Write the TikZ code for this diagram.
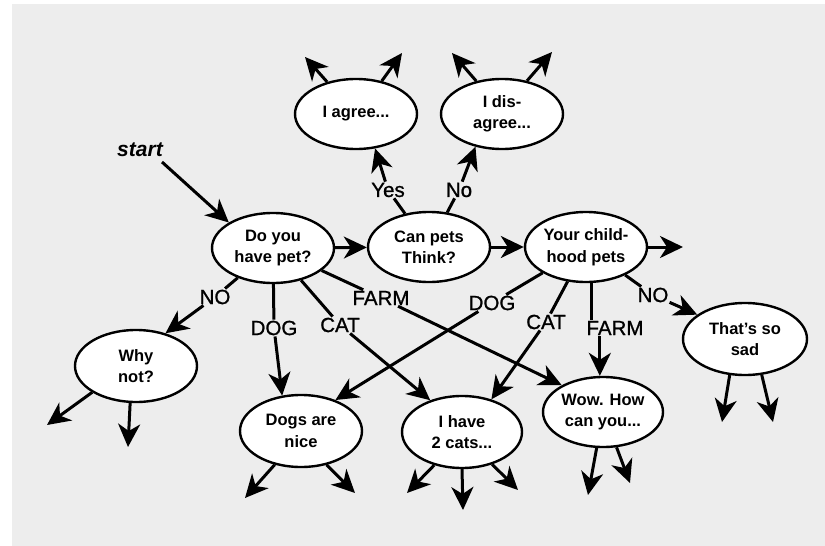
\documentclass[tikz,border=0pt]{standalone}
\usepackage{fontspec}
\setmainfont{Liberation Sans}
\newfontfamily\labfont{Liberation Sans}[FakeBold=1]
\usetikzlibrary{shapes.geometric,arrows.meta}
\definecolor{bg}{RGB}{237,237,237}
\begin{document}
\begin{tikzpicture}[x=1pt,y=-1pt,
  bubble/.style={ellipse,draw,line width=2.4pt,fill=white,minimum width=122pt,minimum height=70pt,inner sep=0pt,align=center,font=\fontsize{16.5}{21.5}\selectfont\bfseries},
  lab/.style={inner sep=1pt,font=\labfont\fontsize{20.5}{22}\selectfont},
  conn/.style={line width=3pt},
  arr/.style={conn,-{Stealth[length=23pt,width=22pt,inset=7pt]}}]
\useasboundingbox (0,0) rectangle (825,546);
\fill[white] (0,0) rectangle (825,546);
\fill[bg] (12,4) rectangle (825,546);

% bubbles
\node[bubble] (agree) at (356,114) {I agree...};
\node[bubble] (disagree) at (502,114) {I dis-\\agree...};
\node[bubble] (doyou) at (273,248) {Do you\\have pet?};
\node[bubble] (canpets) at (429,247) {Can pets\\Think?};
\node[bubble] (child) at (586,247) {Your child-\\hood pets};
\node[bubble,minimum height=72pt] (whynot) at (136,366) {Why\\not?};
\node[bubble,minimum height=72pt] (dogs) at (301,431) {Dogs are\\nice};
\node[bubble,minimum height=72pt,minimum width=120pt] (cats) at (462,432) {I have\\2 cats...};
\node[bubble,minimum width=120pt] (wow) at (603,412) {Wow. How\\can you...};
\node[bubble,minimum height=72pt,minimum width=124pt] (sad) at (745,339) {That's so\\sad};

% labels
\node[font=\fontsize{21}{22}\selectfont\bfseries\itshape,inner sep=1pt] (start) at (140,150) {start};
\node[lab] (yes) at (388,190) {Yes};
\node[lab] (no) at (459,190) {No};
\node[lab] (no1) at (215,297) {NO};
\node[lab] (dog1) at (274,328) {DOG};
\node[lab] (cat1) at (340,325) {CAT};
\node[lab] (farm1) at (381,298) {FARM};
\node[lab] (dog2) at (492,303) {DOG};
\node[lab] (cat2) at (546,322) {CAT};
\node[lab] (farm2) at (615,328) {FARM};
\node[lab] (no2) at (653,295) {NO};

% free ends
\coordinate (st) at (162,162);
\coordinate (co) at (683,247);
\coordinate (a1) at (305,57);
\coordinate (a2) at (402,53);
\coordinate (d1) at (452,53);
\coordinate (d2) at (552,52);
\coordinate (w1) at (47,425);
\coordinate (w2) at (128,447);
\coordinate (g1) at (245,498);
\coordinate (g2) at (355,493);
\coordinate (c1) at (407,493);
\coordinate (c2) at (463,510);
\coordinate (c3) at (518,490);
\coordinate (o1) at (588,495);
\coordinate (o2) at (630,483);
\coordinate (s1) at (722,422);
\coordinate (s2) at (773,422);

% main flow
\draw[arr] (st) -- (doyou.150);
\draw[arr] (doyou) -- (canpets);
\draw[arr] (canpets) -- (child);
\draw[arr] (child) -- (co);

% can pets think
\draw[conn] (canpets) -- (yes);
\draw[arr] (yes) -- (agree.-61);
\draw[conn] (canpets) -- (no);
\draw[arr] (no) -- (disagree.-129);
\draw[arr] (agree.132) -- (a1);
\draw[arr] (agree.52) -- (a2);
\draw[arr] (disagree.128) -- (d1);
\draw[arr] (disagree.53) -- (d2);

% do you have pet
\draw[conn] (doyou) -- (no1);
\draw[arr] (no1) -- (whynot.48);
\draw[conn] (doyou) -- (dog1);
\draw[arr] (dog1) -- (dogs.118);
\draw[conn] (doyou) -- (cat1);
\draw[arr] (cat1) -- (cats.135);
\draw[conn] (doyou) -- (farm1);
\draw[arr] (farm1) -- (wow.147);

% childhood pets
\draw[conn] (child) -- (dog2);
\draw[arr] (dog2) -- (dogs.42);
\draw[conn] (child) -- (cat2);
\draw[arr] (cat2) -- (cats.48);
\draw[conn] (child.-82) -- (child.-82 |- farm2.north);
\draw[arr] (wow.95 |- farm2.south) -- (wow.95);
\draw[conn] (child) -- (no2);
\draw[arr] (no2) -- (sad.153);

% outgoing arrows
\draw[arr] (whynot.211) -- (w1);
\draw[arr] (whynot.261) -- (w2);
\draw[arr] (dogs.232) -- (g1);
\draw[arr] (dogs.307) -- (g2);
\draw[arr] (cats.230) -- (c1);
\draw[arr] (cats.270) -- (c2);
\draw[arr] (cats.313) -- (c3);
\draw[arr] (wow.260) -- (o1);
\draw[arr] (wow.291) -- (o2);
\draw[arr] (sad.247) -- (s1);
\draw[arr] (sad.295) -- (s2);
\end{tikzpicture}
\end{document}
